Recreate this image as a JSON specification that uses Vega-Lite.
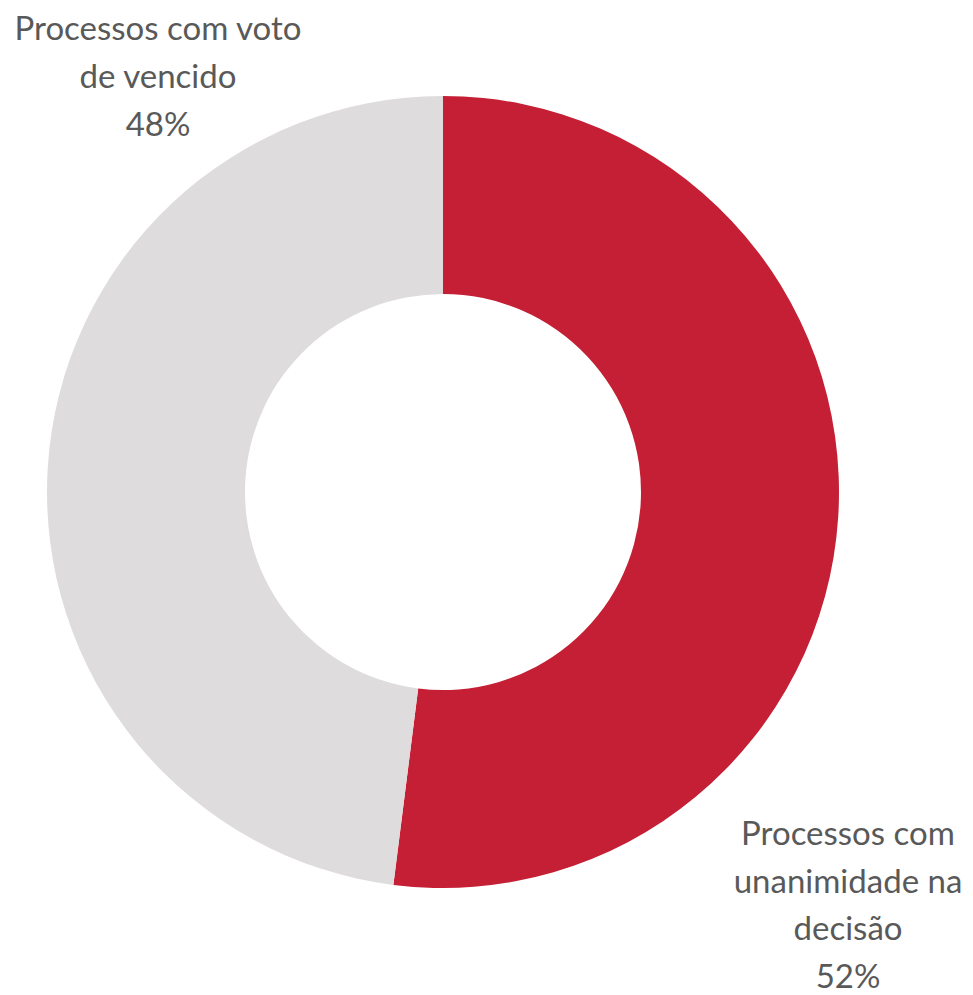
{
  "$schema": "https://vega.github.io/schema/vega-lite/v6.json",
  "width": 886,
  "height": 984,
  "padding": 0,
  "background": "white",
  "config": {"view": {"stroke": null}},
  "data": {
    "values": [
      {"categoria": "Processos com unanimidade na decisão", "percentual": 52, "ordem": 1, "rotulo": "Processos com\nunanimidade na\ndecisão\n52%"},
      {"categoria": "Processos com voto de vencido", "percentual": 48, "ordem": 2, "rotulo": "Processos com voto\nde vencido\n48%"}
    ]
  },
  "layer": [
    {
      "mark": {"type": "arc", "outerRadius": 396, "innerRadius": 198},
      "encoding": {
        "theta": {"field": "percentual", "type": "quantitative", "stack": true},
        "order": {"field": "ordem", "type": "quantitative"},
        "color": {
          "field": "categoria",
          "type": "nominal",
          "scale": {"domain": ["Processos com unanimidade na decisão", "Processos com voto de vencido"], "range": ["#C41F35", "#DEDCDD"]},
          "legend": null
        }
      }
    },
    {
      "transform": [{"filter": "datum.ordem == 2"}],
      "mark": {"type": "text", "font": "Lato", "fontSize": 33, "color": "#595959", "align": "center", "baseline": "alphabetic", "lineBreak": "\n", "lineHeight": 48, "dx": -285, "dy": -452},
      "encoding": {"text": {"field": "rotulo", "type": "nominal"}}
    },
    {
      "transform": [{"filter": "datum.ordem == 1"}],
      "mark": {"type": "text", "font": "Lato", "fontSize": 33, "color": "#595959", "align": "center", "baseline": "alphabetic", "lineBreak": "\n", "lineHeight": 47.5, "dx": 405, "dy": 353},
      "encoding": {"text": {"field": "rotulo", "type": "nominal"}}
    }
  ]
}
